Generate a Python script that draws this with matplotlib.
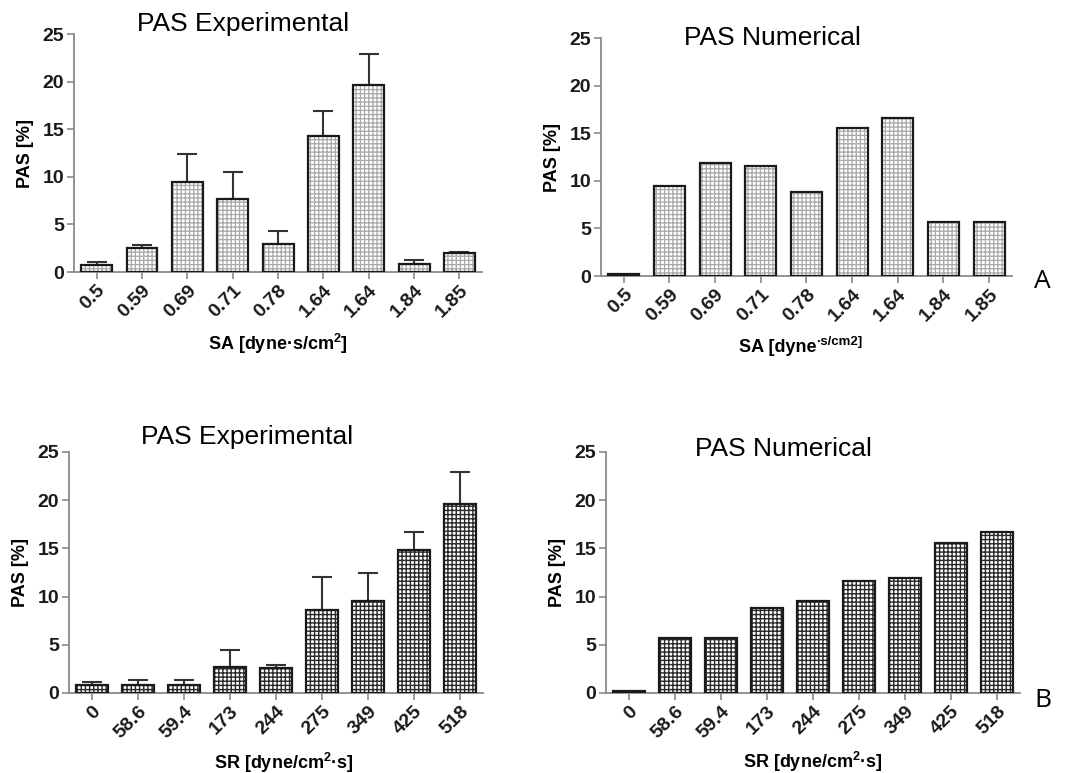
import numpy as np
import matplotlib
matplotlib.use("Agg")
from matplotlib import pyplot as plt

# shear amplitude groups (top row) and shear rate groups (bottom row)
sa_labels = ["0.5", "0.59", "0.69", "0.71", "0.78", "1.64", "1.64", "1.84", "1.85"]
sr_labels = ["0", "58.6", "59.4", "173", "244", "275", "349", "425", "518"]

sa_exp = [0.75, 2.5, 9.5, 7.65, 2.95, 14.3, 19.65, 0.8, 1.95]
sa_exp_err = [0.3, 0.35, 2.9, 2.9, 1.4, 2.6, 3.3, 0.45, 0.2]
sa_num = [0.2, 9.45, 11.9, 11.6, 8.8, 15.5, 16.65, 5.7, 5.7]

sr_exp = [0.8, 0.85, 0.85, 2.7, 2.55, 8.65, 9.5, 14.8, 19.6]
sr_exp_err = [0.3, 0.45, 0.45, 1.75, 0.35, 3.35, 2.9, 1.95, 3.3]
sr_num = [0.2, 5.7, 5.7, 8.85, 9.5, 11.65, 11.9, 15.6, 16.7]

plt.rcParams["mathtext.fontset"] = "custom"
plt.rcParams["mathtext.bf"] = "Liberation Sans:bold"
plt.rcParams["mathtext.rm"] = "Liberation Sans"

fig = plt.figure(figsize=(10.77, 7.73), dpi=100)

ax_tl = fig.add_axes([0.0687, 0.6481, 0.379, 0.3079])
ax_tr = fig.add_axes([0.558, 0.6429, 0.3816, 0.3079])
ax_bl = fig.add_axes([0.0641, 0.1035, 0.3844, 0.3118])
ax_br = fig.add_axes([0.5627, 0.1035, 0.3844, 0.3118])

TICKFONT = dict(family="Liberation Sans", weight="bold", size=14)
LABELFONT = dict(family="Liberation Sans", weight="bold", size=13)
TITLEFONT = dict(family="Liberation Sans", size=19)


def draw_panel(ax, labels, vals, err, hatchcol, hatch_lw):
    x = np.arange(len(vals))
    w = 0.68
    # hatched fill first, black outline on top so hatch colour stays grey
    with plt.rc_context({"hatch.linewidth": hatch_lw}):
        ax.bar(x, vals, width=w, color="white", hatch="++++",
               edgecolor=hatchcol, linewidth=0, zorder=2)
    ax.bar(x, vals, width=w, fill=False, edgecolor="#1a1a1a", linewidth=1.6,
           zorder=3)
    if err is not None:
        ax.errorbar(x, vals, yerr=[np.zeros(len(err)), err], fmt="none",
                    ecolor="#333333", elinewidth=1.5, capsize=7.5,
                    capthick=1.5, zorder=1)
    ax.set_xlim(-0.5, 8.5)
    ax.set_ylim(0, 25)
    ax.set_yticks([0, 5, 10, 15, 20, 25])
    ax.set_xticks(x)
    ax.set_xticklabels(labels, rotation=45, ha="right",
                       rotation_mode="anchor", **TICKFONT)
    for t in ax.get_yticklabels():
        t.set(**TICKFONT)
    for s in ["top", "right"]:
        ax.spines[s].set_visible(False)
    for s in ["left", "bottom"]:
        ax.spines[s].set_color("#8a8a8a")
        ax.spines[s].set_linewidth(1.3)
    ax.tick_params(axis="both", colors="#8a8a8a", width=1.2, length=5,
                   labelcolor="#1a1a1a", pad=2)
    ax.set_ylabel("PAS [%]", labelpad=6, **LABELFONT)


draw_panel(ax_tl, sa_labels, sa_exp, sa_exp_err, "#a8a8a8", 0.9)
draw_panel(ax_tr, sa_labels, sa_num, None, "#a8a8a8", 0.9)
draw_panel(ax_bl, sr_labels, sr_exp, sr_exp_err, "#2a2a2a", 1.0)
draw_panel(ax_br, sr_labels, sr_num, None, "#2a2a2a", 1.0)

ax_tl.set_xlabel("SA [dyne·s/cm$^\\mathbf{2}$]", **LABELFONT)
ax_tl.xaxis.set_label_coords(0.5, -0.25)
ax_bl.set_xlabel("SR [dyne/cm$^\\mathbf{2}$·s]", **LABELFONT)
ax_bl.xaxis.set_label_coords(0.52, -0.24)
ax_br.set_xlabel("SR [dyne/cm$^\\mathbf{2}$·s]", **LABELFONT)
ax_br.xaxis.set_label_coords(0.5, -0.235)
ax_tr.set_xlabel("SA [dyne", **LABELFONT)
ax_tr.xaxis.set_label_coords(0.43, -0.265)
ax_tr.annotate("·s/cm2]", xy=(1.0, 0.45), xycoords=ax_tr.xaxis.label,
               ha="left", va="bottom", family="Liberation Sans",
               weight="bold", size=9.5)

fig.text(0.226, 0.969, "PAS Experimental", ha="center", va="center", **TITLEFONT)
fig.text(0.717, 0.951, "PAS Numerical", ha="center", va="center", **TITLEFONT)
fig.text(0.229, 0.435, "PAS Experimental", ha="center", va="center", **TITLEFONT)
fig.text(0.727, 0.419, "PAS Numerical", ha="center", va="center", **TITLEFONT)

fig.text(0.968, 0.636, "A", ha="center", va="center", family="Open Sans", size=19)
fig.text(0.968, 0.094, "B", ha="center", va="center", family="Open Sans", size=19)

fig.savefig("out.png", dpi=100, facecolor="white")
